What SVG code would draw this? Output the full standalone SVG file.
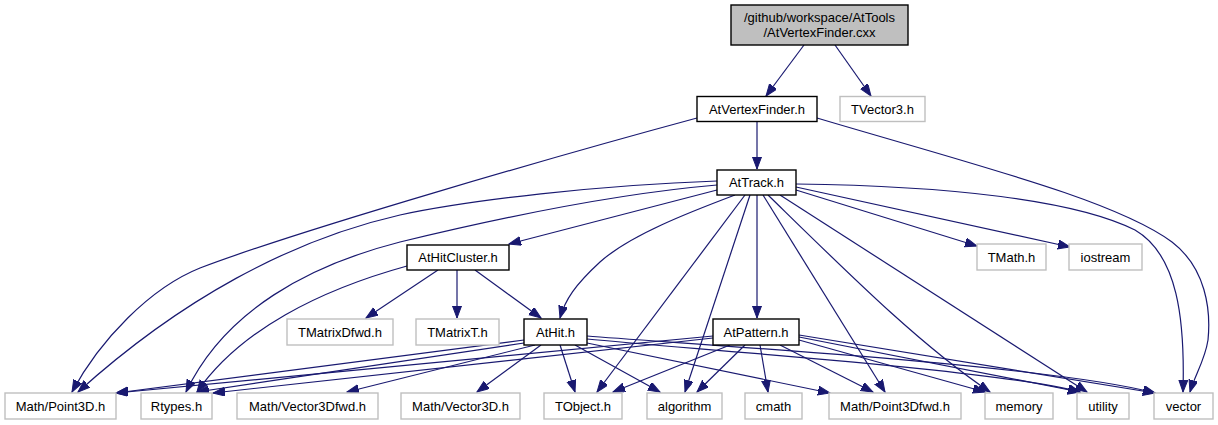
<svg xmlns="http://www.w3.org/2000/svg" width="1218" height="425" viewBox="0 0 1218 425">
<style>
.n rect{fill:#fff;stroke:#000;stroke-width:1.4}
.g rect{fill:#fff;stroke:#bfbfbf;stroke-width:1.4}
.root rect{fill:#bfbfbf;stroke:#000;stroke-width:1.4}
text{font-family:"Liberation Sans",Arial,sans-serif;font-size:13px;text-anchor:middle;fill:#000}
#edges path{fill:none;stroke:#191970;stroke-width:1.2;marker-end:url(#ah)}
</style>
<defs>
<marker id="ah" markerUnits="userSpaceOnUse" markerWidth="13" markerHeight="10" refX="12" refY="4.5" orient="auto">
<path d="M0,0 L12,4.5 L0,9 z" fill="#191970" stroke="#191970" stroke-width="1"/>
</marker>
</defs>
<rect width="1218" height="425" fill="#fff"/>
<g id="edges">
<path d="M804,45 L766,96"/>
<path d="M835,45 L871,96"/>
<path d="M757,121 L757,169"/>
<path d="M697,118 C560,155 300,230 200,268 C150,288 100,340 72,392"/>
<path d="M817,118 C975,165 1115,200 1172,242 C1206,268 1211,310 1208,340 C1205,360 1195,375 1190,392"/>
<path d="M717,190 L509,244"/>
<path d="M735,195 C690,212 630,235 600,262 C575,285 565,300 560,318"/>
<path d="M757,195 L757,318"/>
<path d="M796,190 L977,246"/>
<path d="M796,187 L1070,247"/>
<path d="M796,184 C950,186 1075,200 1135,230 C1178,255 1185,320 1183,392"/>
<path d="M717,181 C600,185 470,200 400,215 C290,240 180,300 78,392"/>
<path d="M717,185 C600,195 470,225 400,242 C310,265 225,310 186,392"/>
<path d="M407,266 C320,290 240,330 197,392"/>
<path d="M438,270 L366,318"/>
<path d="M457,270 L457,318"/>
<path d="M475,270 L541,318"/>
<path d="M745,195 L597,392"/>
<path d="M750,195 Q715,300 685,392"/>
<path d="M763,195 L885,392"/>
<path d="M768,195 C850,275 920,345 990,392"/>
<path d="M780,195 L1087,392"/>
<path d="M524,340 L116,393"/>
<path d="M713,336 L116,393"/>
<path d="M524,343 L197,392"/>
<path d="M713,338 L213,393"/>
<path d="M535,345 L347,392"/>
<path d="M541,345 L477,392"/>
<path d="M560,345 L575,392"/>
<path d="M575,345 L660,392"/>
<path d="M587,343 L830,393"/>
<path d="M587,339 C700,350 1000,370 1080,392"/>
<path d="M587,336 C700,345 1050,365 1155,393"/>
<path d="M730,345 L613,392"/>
<path d="M745,345 L697,392"/>
<path d="M760,345 L768,392"/>
<path d="M780,345 L873,392"/>
<path d="M799,340 L985,392"/>
<path d="M799,337 L1080,392"/>
<path d="M799,335 L1155,393"/>
</g>
<g id="root" class="root"><rect x="731" y="5" width="177" height="40"/><text x="819.5" y="22">/github/workspace/AtTools</text><text x="819.5" y="37">/AtVertexFinder.cxx</text></g>
<g id="AtVertexFinder_h" class="n"><rect x="697" y="96.5" width="120" height="25"/><text x="757" y="113.5">AtVertexFinder.h</text></g>
<g id="TVector3_h" class="g"><rect x="840" y="96.5" width="85" height="25"/><text x="882.5" y="113.5">TVector3.h</text></g>
<g id="AtTrack_h" class="n"><rect x="717" y="170" width="79" height="25"/><text x="756.5" y="187">AtTrack.h</text></g>
<g id="AtHitCluster_h" class="n"><rect x="407" y="245" width="102" height="25"/><text x="458" y="262">AtHitCluster.h</text></g>
<g id="TMath_h" class="g"><rect x="977" y="244" width="69" height="26"/><text x="1011.5" y="261.5">TMath.h</text></g>
<g id="iostream" class="g"><rect x="1069" y="244" width="73" height="26"/><text x="1105.5" y="261.5">iostream</text></g>
<g id="TMatrixDfwd_h" class="g"><rect x="287" y="319" width="106" height="26"/><text x="340" y="336.5">TMatrixDfwd.h</text></g>
<g id="TMatrixT_h" class="g"><rect x="416" y="319" width="83" height="26"/><text x="457.5" y="336.5">TMatrixT.h</text></g>
<g id="AtHit_h" class="n"><rect x="524" y="319" width="63" height="26"/><text x="555.5" y="336.5">AtHit.h</text></g>
<g id="AtPattern_h" class="n"><rect x="713" y="319" width="86" height="26"/><text x="756" y="336.5">AtPattern.h</text></g>
<g id="Point3D_h" class="g"><rect x="5" y="393" width="111" height="26"/><text x="60.5" y="410.5">Math/Point3D.h</text></g>
<g id="Rtypes_h" class="g"><rect x="141" y="393" width="71" height="26"/><text x="176.5" y="410.5">Rtypes.h</text></g>
<g id="Vector3Dfwd_h" class="g"><rect x="237" y="393" width="141" height="26"/><text x="307.5" y="410.5">Math/Vector3Dfwd.h</text></g>
<g id="Vector3D_h" class="g"><rect x="401" y="393" width="119" height="26"/><text x="460.5" y="410.5">Math/Vector3D.h</text></g>
<g id="TObject_h" class="g"><rect x="544" y="393" width="78" height="26"/><text x="583" y="410.5">TObject.h</text></g>
<g id="algorithm" class="g"><rect x="647" y="393" width="75" height="26"/><text x="684.5" y="410.5">algorithm</text></g>
<g id="cmath" class="g"><rect x="745" y="393" width="57" height="26"/><text x="773.5" y="410.5">cmath</text></g>
<g id="Point3Dfwd_h" class="g"><rect x="829" y="393" width="132" height="26"/><text x="895" y="410.5">Math/Point3Dfwd.h</text></g>
<g id="memory" class="g"><rect x="985" y="393" width="68" height="26"/><text x="1019" y="410.5">memory</text></g>
<g id="utility" class="g"><rect x="1077" y="393" width="52" height="26"/><text x="1103" y="410.5">utility</text></g>
<g id="vector" class="g"><rect x="1154" y="393" width="59" height="26"/><text x="1183.5" y="410.5">vector</text></g>
</svg>
